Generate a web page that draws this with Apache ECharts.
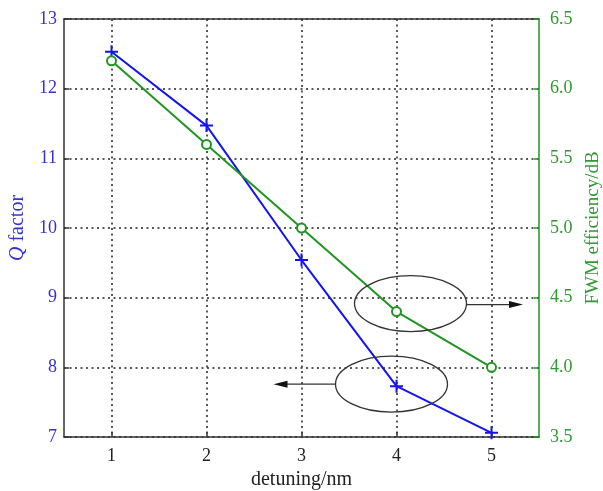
<!DOCTYPE html>
<html><head><meta charset="utf-8">
<script src="https://cdn.jsdelivr.net/npm/echarts@6/dist/echarts.min.js"></script>
<style>html,body{margin:0;padding:0;background:#fff}#c{width:603px;height:491px}</style>
</head><body><div id="c"></div>
<script>
const detuning = [1, 2, 3, 4, 5];
const qFactor = [12.53, 11.47, 9.54, 7.73, 7.06];
const fwmEff = [6.2, 5.6, 5.0, 4.4, 4.0];
const xTicks = [1, 2, 3, 4, 5];

const BLUE = '#1414ee';
const GREEN = '#1f961f';
const LBLUE = '#3434cc';
const LGREEN = '#2f9a2f';
const FONT = '"Liberation Serif", "DejaVu Serif", serif';
const plus = 'path://M0,-1L0,1M-1,0L1,0';

const chart = echarts.init(document.getElementById('c'), null, {renderer: 'canvas', width: 603, height: 491});
const grid = {left: 64, right: 64, top: 19, bottom: 54, containLabel: false, outerBoundsMode: 'none'};
const dotted = {color: '#222', width: 1.5, type: [2, 3.5]};

chart.setOption({
  animation: false,
  backgroundColor: '#fff',
  grid: grid,
  xAxis: [{
    type: 'value', min: 0.5, max: 5.5, position: 'bottom',
    axisLine: {show: true, lineStyle: {color: '#333', width: 1.5}},
    axisTick: {show: true, inside: true, length: 5, customValues: xTicks, lineStyle: {color: '#333', width: 1.5}},
    axisLabel: {customValues: xTicks, color: '#222', fontFamily: FONT, fontSize: 18, margin: 10},
    splitLine: {show: true, lineStyle: dotted},
    name: 'detuning/nm', nameLocation: 'middle', nameGap: 29,
    nameTextStyle: {color: '#222', fontFamily: FONT, fontSize: 20}
  }, {
    type: 'value', min: 0.5, max: 5.5, position: 'top',
    axisLine: {show: true, lineStyle: {color: '#333', width: 1.5}},
    axisTick: {show: false}, axisLabel: {show: false}, splitLine: {show: false}
  }],
  yAxis: [{
    type: 'value', min: 7, max: 13, interval: 1, position: 'left',
    axisLine: {show: true, lineStyle: {color: '#333', width: 1.5}},
    axisTick: {show: true, inside: true, length: 5, lineStyle: {color: '#333', width: 1.5}},
    axisLabel: {color: LBLUE, fontFamily: FONT, fontSize: 18, margin: 7},
    splitLine: {show: true, lineStyle: dotted},
    name: '{i|Q} factor', nameLocation: 'middle', nameGap: 36, nameRotate: 90,
    nameTextStyle: {color: LBLUE, fontFamily: FONT, fontSize: 20,
      rich: {i: {fontStyle: 'italic', color: LBLUE, fontFamily: FONT, fontSize: 20}}}
  }, {
    type: 'value', min: 3.5, max: 6.5, interval: 0.5, position: 'right',
    axisLine: {show: true, lineStyle: {color: GREEN, width: 1.5}},
    axisTick: {show: true, inside: true, length: 5, lineStyle: {color: GREEN, width: 1.5}},
    axisLabel: {color: LGREEN, fontFamily: FONT, fontSize: 18, margin: 11,
      formatter: v => v.toFixed(1)},
    splitLine: {show: false},
    name: 'FWM efficiency/dB', nameLocation: 'middle', nameGap: 41, nameRotate: 90,
    nameTextStyle: {color: LGREEN, fontFamily: FONT, fontSize: 19}
  }],
  series: [{
    type: 'line', xAxisIndex: 0, yAxisIndex: 0,
    data: detuning.map((d, i) => [d, qFactor[i]]),
    lineStyle: {color: BLUE, width: 2},
    itemStyle: {color: BLUE, borderColor: BLUE, borderWidth: 2},
    symbol: plus, symbolSize: 13, showAllSymbol: true, z: 3
  }, {
    type: 'line', xAxisIndex: 0, yAxisIndex: 1,
    data: detuning.map((d, i) => [d, fwmEff[i]]),
    lineStyle: {color: GREEN, width: 2},
    itemStyle: {color: '#fff', borderColor: GREEN, borderWidth: 2},
    symbol: 'circle', symbolSize: 9, showAllSymbol: true, z: 4
  }]
});

// annotation ellipses and arrows placed from data coordinates
const p1 = chart.convertToPixel({xAxisIndex: 0, yAxisIndex: 1}, [4, 4.4]);
const p2 = chart.convertToPixel({xAxisIndex: 0, yAxisIndex: 0}, [4, 7.73]);
const right = chart.convertToPixel({xAxisIndex: 0}, 5.5);
const ell = (cx, cy) => ({type: 'ellipse', shape: {cx: cx, cy: cy, rx: 56, ry: 28},
  style: {fill: null, stroke: '#333', lineWidth: 1.3}, z: 10});
const arrowHead = (x, y, dir) => ({type: 'polygon',
  shape: {points: [[x, y], [x - dir * 14, y - 3.5], [x - dir * 14, y + 3.5]]},
  style: {fill: '#111'}, z: 10});
const c1x = p1[0] + 14, c1y = p1[1] - 8;
const c2x = p2[0] - 5, c2y = p2[1] - 2;
chart.setOption({graphic: [
  ell(c1x, c1y),
  {type: 'line', shape: {x1: c1x + 56, y1: c1y + 1, x2: right - 20, y2: c1y + 1}, style: {stroke: '#333', lineWidth: 1.3}, z: 10},
  arrowHead(right - 16, c1y + 1, 1),
  ell(c2x, c2y),
  {type: 'line', shape: {x1: c2x - 56, y1: c2y, x2: c2x - 110, y2: c2y}, style: {stroke: '#333', lineWidth: 1.3}, z: 10},
  arrowHead(c2x - 118, c2y, -1)
]});
</script>
</body></html>
